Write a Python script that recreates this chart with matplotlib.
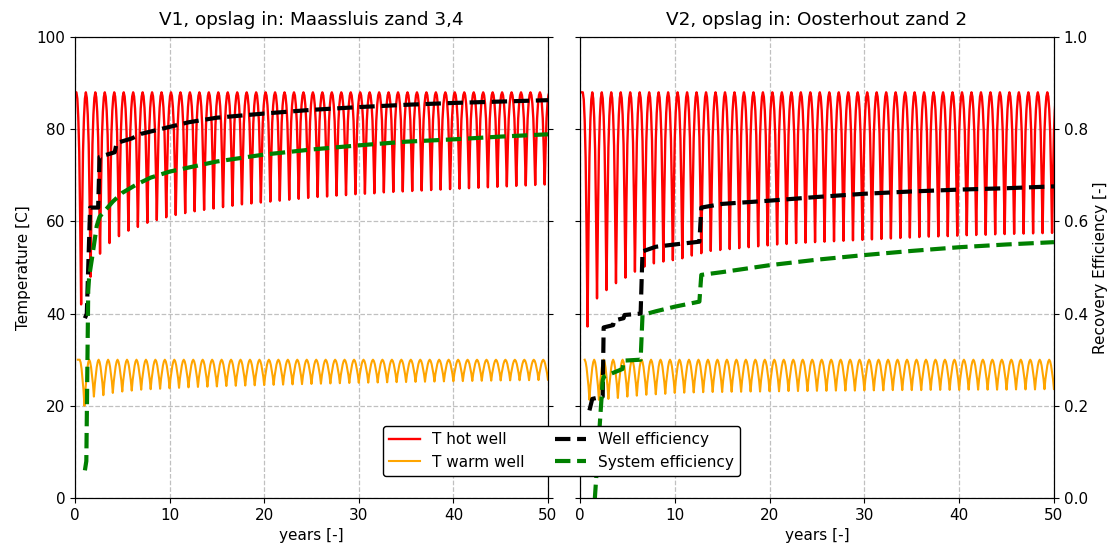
import numpy as np
import matplotlib
matplotlib.use("Agg")
import matplotlib.pyplot as plt

plt.rcParams['font.size'] = 11

# temperature of the wells: top of every yearly cycle and the minimum per cycle
hot_top = 88
warm_top = 30

v1_hot_min = [42, 48, 53, 55.3, 56.8, 58, 58.8, 59.7, 60.3, 60.9,
              61.4, 61.8, 62.2, 62.5, 62.8, 63.1, 63.4, 63.7, 63.9, 64.1,
              64.3, 64.5, 64.7, 64.9, 65.1, 65.3, 65.4, 65.6, 65.7, 65.9,
              66.0, 66.1, 66.3, 66.4, 66.5, 66.6, 66.7, 66.8, 66.9, 67.0,
              67.1, 67.2, 67.3, 67.4, 67.5, 67.6, 67.7, 67.8, 67.9, 68.0]
v1_warm_min = [20, 22, 22.3, 22.8, 23.1, 23.3, 23.5, 23.6, 23.7, 23.8,
               23.9, 24.0, 24.1, 24.15, 24.2, 24.3, 24.35, 24.4, 24.45, 24.5,
               24.55, 24.6, 24.65, 24.7, 24.75, 24.8, 24.85, 24.9, 24.95, 25.0,
               25.03, 25.06, 25.1, 25.13, 25.16, 25.2, 25.23, 25.26, 25.3, 25.33,
               25.36, 25.4, 25.43, 25.46, 25.5, 25.52, 25.54, 25.56, 25.58, 25.6]

v2_hot_min = [37.2, 43.3, 45.1, 46.6, 47.8, 49.1, 50.2, 50.9, 51.3, 51.6,
              52.0, 52.6, 53.1, 53.6, 53.8, 54.0, 54.2, 54.4, 54.6, 54.8,
              55.0, 55.1, 55.3, 55.4, 55.5, 55.6, 55.7, 55.8, 55.9, 56.0,
              56.1, 56.2, 56.3, 56.4, 56.5, 56.6, 56.7, 56.75, 56.8, 56.9,
              57.0, 57.05, 57.1, 57.2, 57.25, 57.3, 57.35, 57.4, 57.45, 57.5]
v2_warm_min = [21.3, 21.3, 21.5, 21.7, 22.0, 22.2, 22.4, 22.5, 22.6, 22.8,
               22.85, 22.9, 22.95, 23.0, 23.0, 23.05, 23.05, 23.1, 23.1, 23.15,
               23.15, 23.2, 23.2, 23.2, 23.25, 23.25, 23.3, 23.3, 23.3, 23.35,
               23.35, 23.35, 23.4, 23.4, 23.4, 23.4, 23.45, 23.45, 23.45, 23.45,
               23.5, 23.5, 23.5, 23.5, 23.5, 23.55, 23.55, 23.55, 23.6, 23.6]

# recovery efficiency
v1_well_t = [1.05, 1.25, 1.6, 2.45, 2.6, 4.2, 4.4, 6.0, 7.0, 10, 12, 15, 20, 25, 30, 35, 40, 45, 50]
v1_well = [0.39, 0.40, 0.63, 0.63, 0.74, 0.75, 0.77, 0.78, 0.79, 0.805, 0.815, 0.825, 0.834,
           0.842, 0.848, 0.853, 0.857, 0.860, 0.863]
v1_sys_t = [1.05, 1.2, 1.4, 1.5, 1.8, 2.3, 2.6, 4.0, 5.0, 6.5, 8.0, 10, 15, 20, 25, 30, 35, 40, 45, 50]
v1_sys = [0.06, 0.08, 0.45, 0.48, 0.52, 0.59, 0.61, 0.643, 0.662, 0.68, 0.695, 0.708, 0.73,
          0.745, 0.756, 0.765, 0.773, 0.778, 0.784, 0.789]

v2_well_t = [1.0, 1.3, 2.4, 2.5, 3.5, 3.6, 4.6, 4.7, 6.4, 6.6, 8, 10, 12.6, 12.8, 15, 20, 25, 30,
             35, 40, 45, 50]
v2_well = [0.19, 0.215, 0.22, 0.37, 0.375, 0.385, 0.39, 0.397, 0.40, 0.535, 0.545, 0.55, 0.556,
           0.63, 0.638, 0.645, 0.653, 0.66, 0.665, 0.669, 0.672, 0.676]
v2_sys_t = [1.25, 2.4, 2.5, 4.5, 4.6, 6.4, 6.6, 8, 10, 12.6, 12.8, 15, 20, 25, 30, 35, 40, 45, 50]
v2_sys = [-0.1, 0.255, 0.263, 0.28, 0.298, 0.30, 0.397, 0.405, 0.415, 0.426, 0.484, 0.49, 0.505,
          0.517, 0.527, 0.536, 0.544, 0.55, 0.555]

titles = ["V1, opslag in: Maassluis zand 3,4", "V2, opslag in: Oosterhout zand 2"]

# shape of one yearly cycle around its minimum (fraction of the drop from the top)
hot_offset = [-0.5, -0.4, -0.3, -0.2, -0.1, 0.0, 0.1, 0.2, 0.3, 0.4, 0.5]
hot_drop = [0.0, 0.03, 0.12, 0.28, 0.6, 1.0, 0.6, 0.28, 0.12, 0.03, 0.0]
warm_offset = [-0.5, -0.4, -0.3, -0.2, -0.1, 0.0, 0.1, 0.2, 0.3, 0.4, 0.5]
warm_drop = [0.0, 0.06, 0.2, 0.42, 0.66, 1.0, 0.66, 0.42, 0.2, 0.06, 0.0]


def cycles(start, first_min, minima, top, offsets, drops):
    t = [start]
    y = [top]
    for k, m in enumerate(minima):
        for off, d in zip(offsets, drops):
            t.append(first_min + k + off)
            y.append(top - (top - m) * d)
    return t, y


fig = plt.figure(figsize=(11.14, 5.46), dpi=100)
ax1 = fig.add_axes([0.0673, 0.0879, 0.4246, 0.8443])
ax2 = fig.add_axes([0.5206, 0.0879, 0.4255, 0.8443])

panels = [
    (ax1, v1_hot_min, v1_warm_min, 0.65, 0.3, v1_well_t, v1_well, v1_sys_t, v1_sys),
    (ax2, v2_hot_min, v2_warm_min, 0.8, 0.5, v2_well_t, v2_well, v2_sys_t, v2_sys),
]

handles = []
for i, (ax, hot_min, warm_min, hot_off, warm_start, wt, we, st, se) in enumerate(panels):
    th, yh = cycles(0.0, hot_off, hot_min, hot_top, hot_offset, hot_drop)
    tw, yw = cycles(warm_start, 1.0, warm_min, warm_top, warm_offset, warm_drop)
    l1, = ax.plot(th, yh, color="red", lw=1.7, label="T hot well")
    l2, = ax.plot(tw, yw, color="orange", lw=1.5, label="T warm well")
    ax.set_xlim(0, 50)
    ax.set_ylim(0, 100)
    ax.set_xticks([0, 10, 20, 30, 40, 50])
    ax.set_yticks([0, 20, 40, 60, 80, 100])
    ax.grid(True, linestyle="--", color="#c0c0c0", lw=0.9)
    ax.set_axisbelow(True)
    ax.set_xlabel("years [-]")
    ax.set_title(titles[i], pad=9)

    axt = ax.twinx()
    l3, = axt.plot(wt, we, color="black", lw=3, linestyle="--", label="Well efficiency")
    l4, = axt.plot(st, se, color="green", lw=3, linestyle="--", label="System efficiency")
    axt.set_ylim(0, 1.0)
    axt.set_yticks([0, 0.2, 0.4, 0.6, 0.8, 1.0])
    if i == 0:
        ax.set_ylabel("Temperature [C]")
        axt.set_yticklabels([])
    else:
        ax.set_yticklabels([])
        axt.set_ylabel("Recovery Efficiency [-]")
        handles = [l1, l2, l3, l4]

leg = fig.legend(handles, [h.get_label() for h in handles], ncol=2, loc="center",
                 bbox_to_anchor=(0.504, 0.174), framealpha=1, edgecolor="black",
                 columnspacing=2.0)

fig.savefig("out.png", dpi=100)
